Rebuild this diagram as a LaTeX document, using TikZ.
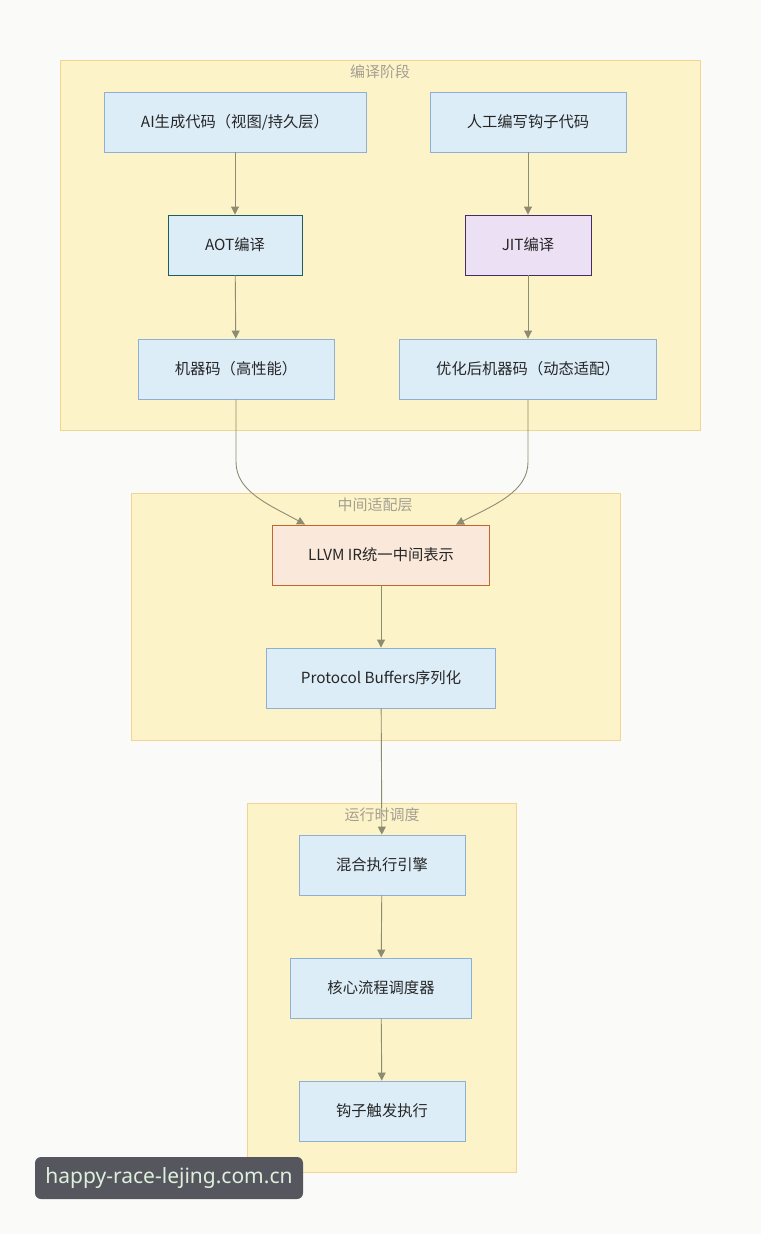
\documentclass[tikz,border=0pt]{standalone}
\usepackage{fontspec}
\setmainfont{Noto Sans CJK SC}
\newfontfamily\markfont{Noto Sans}
\usetikzlibrary{arrows.meta, positioning}
\definecolor{pagebg}{HTML}{FAFAF8}
\definecolor{stagefill}{HTML}{FDF3C9}
\definecolor{stageline}{HTML}{F2D58E}
\definecolor{titlegrey}{HTML}{A39F92}
\definecolor{boxfill}{HTML}{DDEDF8}
\definecolor{boxline}{HTML}{8EB0D2}
\definecolor{aotline}{HTML}{1F5E5C}
\definecolor{jitfill}{HTML}{ECE0F4}
\definecolor{jitline}{HTML}{4A2A63}
\definecolor{irfill}{HTML}{FAE9DA}
\definecolor{irline}{HTML}{C2662E}
\definecolor{arrowgrey}{HTML}{8E8C70}
\definecolor{markfill}{HTML}{56565E}
\definecolor{marktext}{HTML}{DDF0DC}

\begin{document}
\begin{tikzpicture}[x=1pt, y=-1pt,
  stage/.style={draw=stageline, fill=stagefill, line width=0.9pt, inner sep=0pt},
  stagetitle/.style={text=titlegrey, font=\fontsize{15}{17}\selectfont, inner sep=0pt},
  proc/.style={draw=boxline, fill=boxfill, line width=0.9pt, minimum height=60pt, inner sep=0pt, text=black!85, font=\fontsize{15.3}{17}\selectfont},
  flow/.style={draw=arrowgrey, line width=0.9pt, -{Triangle[width=8pt,length=8pt]}}
]
  \fill[pagebg] (0,0) rectangle (761,1234);
  \useasboundingbox (0,0) rectangle (761,1234);

  % stages
  \node[stage, minimum width=640pt, minimum height=370pt] (compile) at (380,245) {};
  \node[stage, minimum width=489pt, minimum height=247pt] (adapt) at (375.5,616.5) {};
  \node[stage, minimum width=269pt, minimum height=369pt] (runtime) at (381.5,987.5) {};
  \node[stagetitle] (compiletitle) at (380,72) {编译阶段};
  \node[stagetitle] (adapttitle) at (375,505) {中间适配层};
  \node[stagetitle] (runtimetitle) at (382,815) {运行时调度};

  % compile stage
  \node[proc, minimum width=262pt] (aicode) at (235,122) {AI生成代码（视图/持久层）};
  \node[proc, minimum width=196pt] (hook) at (528,122) {人工编写钩子代码};
  \node[proc, minimum width=134pt, draw=aotline] (aot) at (235,245) {AOT编译};
  \node[proc, minimum width=126pt, draw=jitline, fill=jitfill] (jit) at (528,245) {JIT编译};
  \node[proc, minimum width=196pt] (native) at (236,369) {机器码（高性能）};
  \node[proc, minimum width=257pt] (tuned) at (528,369) {优化后机器码（动态适配）};

  % adapter stage
  \node[proc, minimum width=217pt, draw=irline, fill=irfill] (llvm) at (381,555) {LLVM IR统一中间表示};
  \node[proc, minimum width=229pt] (proto) at (381,678) {Protocol Buffers序列化};

  % runtime stage
  \node[proc, minimum width=166pt] (engine) at (382,865) {混合执行引擎};
  \node[proc, minimum width=181pt] (sched) at (381,988) {核心流程调度器};
  \node[proc, minimum width=166pt] (fire) at (382,1111) {钩子触发执行};

  \draw[flow] (aicode) -- (aot);
  \draw[flow] (hook) -- (jit);
  \draw[flow] (aot) -- (native);
  \draw[flow] (jit) -- (tuned);
  \draw[flow] (native.south) -- (236,462) .. controls (236,492) and (270,505) .. ([xshift=-76pt]llvm.north);
  \draw[flow] (tuned.south) -- (528,462) .. controls (528,492) and (494,505) .. ([xshift=75pt]llvm.north);
  \draw[flow] (llvm) -- (proto);
  \draw[flow] (proto) -- (engine);
  \draw[flow] (engine) -- (sched);
  \draw[flow] (sched) -- (fire);

  % watermark
  \node[fill=markfill, text=marktext, rounded corners=6pt, minimum width=268pt, minimum height=42pt, inner sep=0pt, font=\markfont\fontsize{21}{24}\selectfont] (mark) at (169,1178) {happy-race-lejing.com.cn};
\end{tikzpicture}
\end{document}
